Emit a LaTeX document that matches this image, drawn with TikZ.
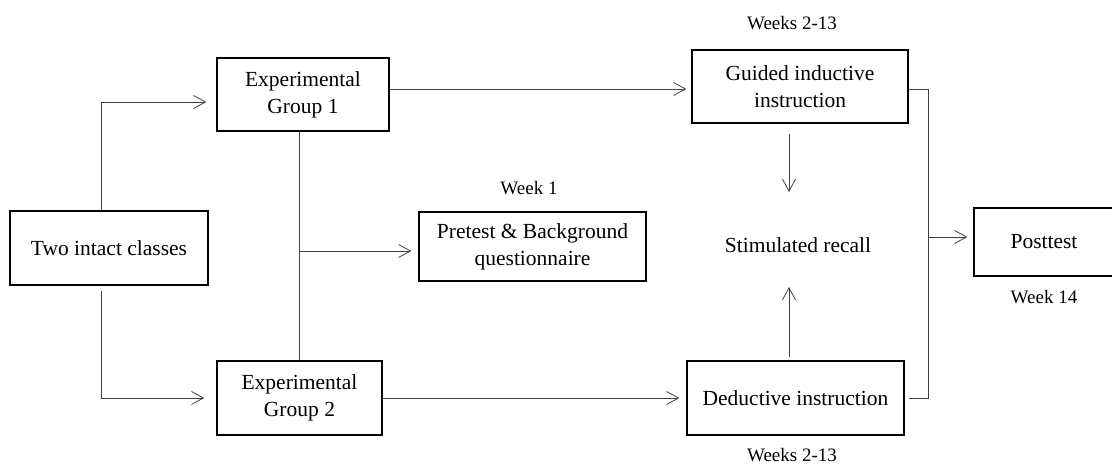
\documentclass[tikz,border=0pt]{standalone}
\usepackage{fontspec}
\setmainfont{Liberation Serif}
\usetikzlibrary{arrows.meta,calc}
\begin{document}
\begin{tikzpicture}[x=1pt,y=-1pt,
  box/.style={draw=black, line width=1.3pt, align=center, inner sep=0pt,
    font=\fontsize{21.5}{27}\selectfont},
  lbl/.style={font=\fontsize{19}{23}\selectfont, inner sep=0pt},
  conn/.style={draw=black!75, line width=0.8pt},
  arr/.style={conn, -{Straight Barb[length=12pt,width=13pt,line width=0.8pt]}}
]
\useasboundingbox (0,0) rectangle (1112,465);
\fill[white] (0,0) rectangle (1112,465);

% boxes
\node[box, minimum width=198pt, minimum height=74pt] (tic)  at (109,248)   {Two intact classes};
\node[box, minimum width=172pt, minimum height=73pt] (eg1)  at (303,94.5)  {Experimental\\Group 1};
\node[box, minimum width=165pt, minimum height=74pt] (eg2)  at (299.5,398) {Experimental\\Group 2};
\node[box, minimum width=227pt, minimum height=69pt] (pre)  at (532.5,246.5) {Pretest \& Background\\questionnaire};
\node[box, minimum width=216pt, minimum height=73pt] (gui)  at (800,86.5)  {Guided inductive\\instruction};
\node[box, minimum width=217pt, minimum height=74pt] (ded)  at (795.5,398) {Deductive instruction};
\node[box, minimum width=140pt, minimum height=68pt] (post) at (1044,242)  {Posttest};
\node[font=\fontsize{21.5}{27}\selectfont, inner sep=0pt] (rec) at (798,245) {Stimulated recall};

% labels
\node[lbl] (w1)   at (529,188) {Week 1};
\node[lbl] (wt)   at (792,23)  {Weeks 2-13};
\node[lbl] (wb)   at (792,455) {Weeks 2-13};
\node[lbl] (w14)  at (1044,297) {Week 14};

% helper coordinates
\coordinate (t1) at (101,102);
\coordinate (t2) at (101,398);
\coordinate (v)  at (299,251);
\coordinate (h1) at (0,89);
\coordinate (d1) at (789,192);
\coordinate (d2) at (789,287);
\coordinate (r)  at (928,237);

% connectors
\draw[arr] (tic.north -| t1) -- (t1) -- ([xshift=-10pt]eg1.west |- t1);
\draw[arr] ([yshift=-5pt]tic.south -| t2) -- (t2) -- ([xshift=-12pt]eg2.west |- t2);
\draw[conn] (eg1.south -| v) -- (eg2.north -| v);
\draw[arr] (v) -- ([xshift=-7pt]pre.west |- v);
\draw[arr] (eg1.east |- h1) -- ([xshift=-5pt]gui.west |- h1);
\draw[arr] (eg2.east) -- ([xshift=-7pt]ded.west);
\draw[arr] ([yshift=-10pt]gui.south -| d1) -- (d1);
\draw[arr] ([yshift=3pt]ded.north -| d2) -- (d2);
\draw[conn] (gui.east |- h1) -- (r |- h1) -- (r |- ded.east) -- ([xshift=4pt]ded.east);
\draw[arr] (r) -- ([xshift=-6pt]post.west |- r);
\end{tikzpicture}
\end{document}
